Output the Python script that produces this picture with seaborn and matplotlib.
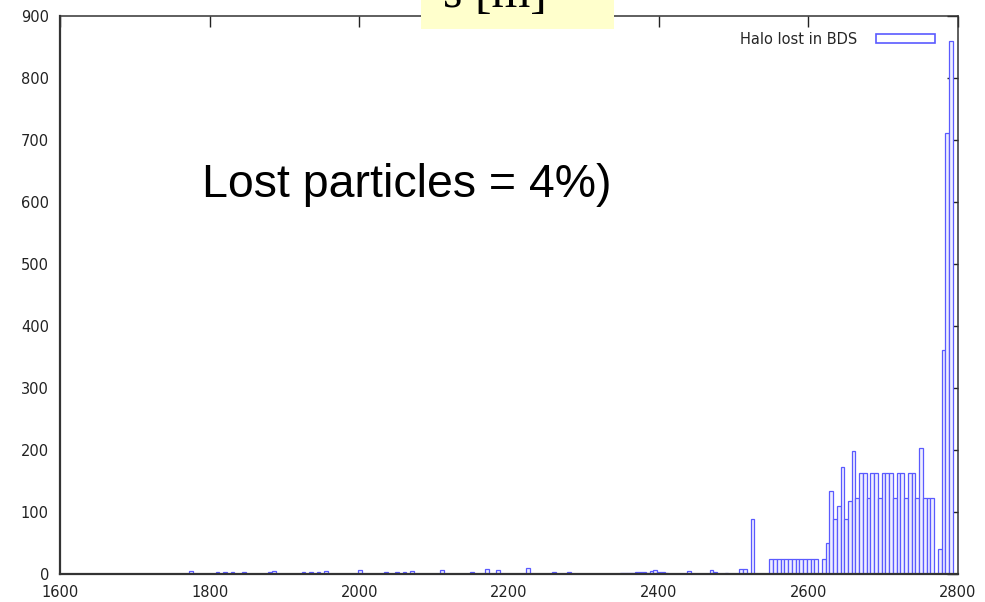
import numpy as np
import pandas as pd
import matplotlib
matplotlib.use("Agg")
import matplotlib.pyplot as plt
import seaborn as sns
from matplotlib.patches import Patch, Rectangle

# Left edge (s, in m) of each 5 m bin that holds lost halo particles
bin_left = [
    1773, 1808, 1818, 1828, 1843, 1878, 1883, 1923, 1933, 1943, 1953, 1998,
    2033, 2048, 2058, 2068, 2108, 2148, 2168, 2183, 2223, 2258, 2278,
    2348, 2353, 2358, 2363, 2368, 2373, 2378, 2383, 2388, 2393, 2398, 2403, 2408,
    2438, 2468, 2473, 2488, 2508, 2513, 2523,
    2548, 2553, 2558, 2563, 2568, 2573, 2578, 2583, 2588, 2593, 2598, 2603, 2608,
    2618, 2623, 2628, 2633, 2638, 2643, 2648, 2653, 2658, 2663,
    2668, 2673, 2678, 2683, 2688, 2693, 2698, 2703, 2708, 2713,
    2718, 2723, 2728, 2733, 2738, 2743, 2748, 2753, 2758, 2763,
    2773, 2778, 2783, 2788,
]
# Number of particles lost in each of those bins
lost_counts = [
    5, 4, 3, 3, 4, 3, 5, 4, 3, 4, 5, 6,
    4, 3, 4, 5, 6, 4, 8, 6, 9, 4, 4,
    2, 2, 2, 2, 3, 3, 4, 2, 5, 6, 4, 3, 2,
    5, 7, 3, 2, 8, 8, 88,
    25, 25, 25, 25, 25, 25, 25, 25, 25, 25, 25, 25, 25,
    25, 50, 134, 88, 110, 172, 88, 118, 199, 122,
    163, 163, 122, 163, 163, 122, 163, 163, 163, 122,
    163, 163, 122, 163, 163, 122, 204, 122, 122, 122,
    41, 362, 712, 860,
]

x_ticks = [1600, 1800, 2000, 2200, 2400, 2600, 2800]
y_ticks = [0, 100, 200, 300, 400, 500, 600, 700, 800, 900]

BIN_WIDTH = 5
df = pd.DataFrame({"s": np.array(bin_left) + BIN_WIDTH / 2, "n": lost_counts})

sns.set_theme(style="white")
plt.rcParams["font.family"] = ["DejaVu Sans"]

fig = plt.figure(figsize=(9.85, 6.02), dpi=100)
ax = fig.add_axes([60 / 985, 1 - 574 / 602, 898 / 985, 558 / 602])

line_blue = "#5a5aff"
sns.histplot(data=df, x="s", weights="n", binwidth=BIN_WIDTH,
             binrange=(1603, 2798), element="bars",
             fill=True, color=line_blue, ax=ax)
for p in ax.patches:
    p.set_facecolor("#eeeeff")
    p.set_edgecolor(line_blue)
    p.set_linewidth(0.9)
    p.set_alpha(None)

ax.set_xlim(1600, 2800)
ax.set_ylim(0, 900)
ax.set_xticks(x_ticks)
ax.set_yticks(y_ticks)
ax.set_xlabel("")
ax.set_ylabel("")
ax.tick_params(direction="in", length=8, width=1, color="#222222",
               top=True, right=True, labelsize=10.5, labelcolor="#222222")
ax.tick_params(axis="x", pad=8)
ax.tick_params(axis="y", pad=8)
for name, sp in ax.spines.items():
    sp.set_visible(True)
    sp.set_color("#333333")
    sp.set_linewidth(1.6 if name in ("left", "bottom") else 1.1)

handle = Patch(facecolor="white", edgecolor=line_blue, linewidth=1.2)
ax.legend([handle], ["Halo lost in BDS"], loc="upper right",
          bbox_to_anchor=(0.982, 0.985), frameon=False, markerfirst=False,
          handlelength=4.0, handleheight=0.6, handletextpad=1.3,
          borderpad=0, fontsize=10.5)

fig.text(202 / 985, 1 - 197 / 602, "Lost particles = 4%)", fontsize=33.5,
         family="Liberation Sans", ha="left", va="baseline", color="black")

# s [m] caption in a yellow box at the top edge
fig.patches.append(Rectangle((421 / 985, 1 - 29 / 602), 193 / 985, 29 / 602 + 0.01,
                             transform=fig.transFigure, facecolor="#ffffcc",
                             edgecolor="none", zorder=5))
fig.text(443 / 985, 1 - 7 / 602, "s [m]", fontsize=36, family="Liberation Serif",
         ha="left", va="baseline", color="black", zorder=6)

fig.savefig("out.png", dpi=100)
